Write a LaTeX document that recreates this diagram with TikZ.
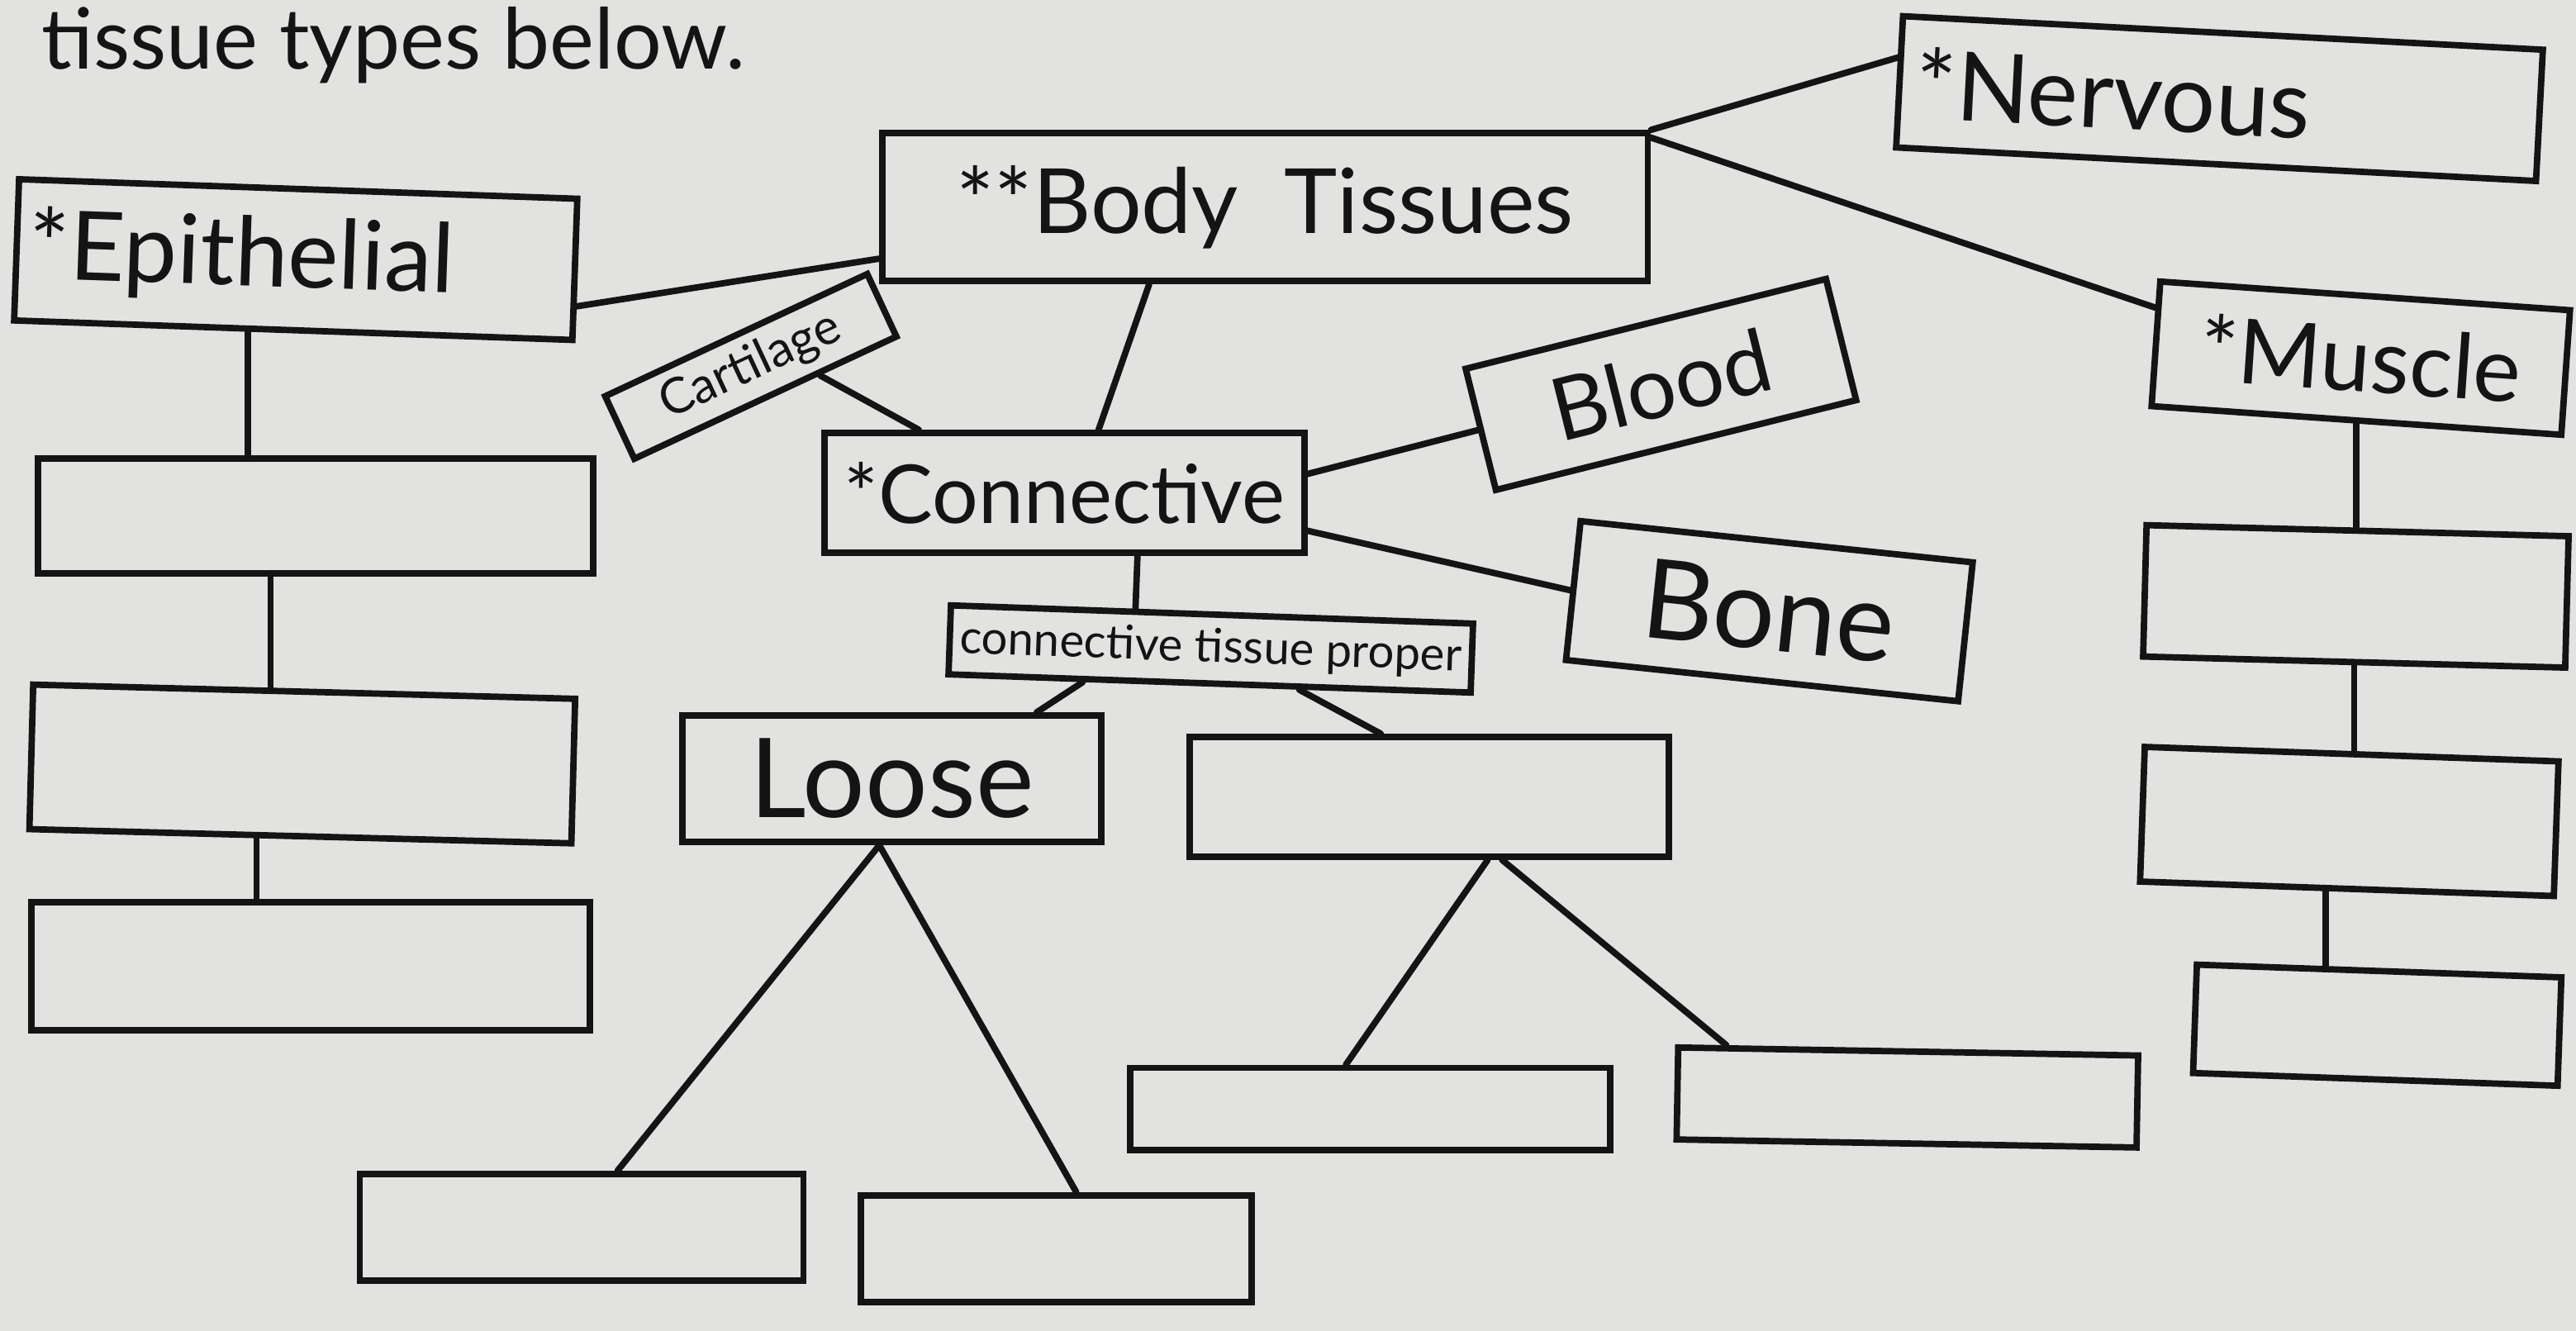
\documentclass[tikz,border=0pt]{standalone}
\usepackage{fontspec}
\setmainfont{Lato}
\usetikzlibrary{calc}
\newcommand\myfs[1]{\fontsize{#1}{#1}\selectfont}
\definecolor{paper}{RGB}{226,226,224}
\definecolor{ink}{RGB}{20,20,20}
\begin{document}
\begin{tikzpicture}[x=0.019885cm,y=-0.019885cm,
  box/.style={draw=ink,line width=2.2pt,inner sep=2pt,text=ink},
  bw/.style={minimum width=#1*0.019885cm},
  bh/.style={minimum height=#1*0.019885cm},
  link/.style={draw=ink,line width=2.2pt,line cap=round},
  words/.style={text=ink,inner sep=0pt}]
\fill[paper] (0,0) rectangle (1568,810);
\useasboundingbox (0,0) rectangle (1568,810);

\node[words,anchor=base west,font=\myfs{29}] (title) at (25,42) {tissue types below.};

% main boxes
\node[box,bw=466,bh=90,font=\myfs{31}] (body) at (770,126) {**Body\ \ Tissues};
\node[box,bw=390,bh=80,rotate=-3,font=\myfs{33},text width=370*0.019885cm,align=left] (nervous) at (1351,60) {*Nervous};
\node[box,bw=340,bh=86,rotate=-2,font=\myfs{33},text width=325*0.019885cm,align=left] (epi) at (180,158) {*Epithelial};
\node[box,bw=250,bh=76,rotate=-4,font=\myfs{31}] (muscle) at (1437,218) {*Muscle};
\node[box,bw=176,bh=42,rotate=25,font=\myfs{17}] (cart) at (457,223) {Cartilage};
\node[box,bw=292,bh=73,font=\myfs{28}] (conn) at (648,300) {*Connective};
\node[box,bw=226,bh=76,rotate=14,font=\myfs{30}] (blood) at (1011,234) {Blood};
\node[box,bw=240,bh=85,rotate=-6,font=\myfs{38}] (bone) at (1077,372) {Bone};
\node[box,bw=318,bh=42,rotate=-2,font=\myfs{16}] (ctp) at (737,395) {connective tissue proper};
\node[box,bw=255,bh=77,font=\myfs{38}] (loose) at (543,474) {Loose};
\node[box,bw=292,bh=73] (cpr) at (870,485) {};
\node[box,bw=270,bh=65] (ll) at (354,747) {};
\node[box,bw=238,bh=65] (lr) at (643,760) {};
\node[box,bw=292,bh=50] (rl) at (834,675) {};
\node[box,bw=280,bh=56,rotate=-1] (rr) at (1161,668) {};
\node[box,bw=338,bh=70] (e1) at (192,314) {};
\node[box,bw=330,bh=88,rotate=-1.5] (e2) at (184,465) {};
\node[box,bw=340,bh=78] (e3) at (189,588) {};
\node[box,bw=257,bh=80,rotate=-1.5] (m1) at (1434,363) {};
\node[box,bw=252,bh=82,rotate=-2] (m2) at (1430,500) {};
\node[box,bw=222,bh=66,rotate=-2] (m3) at (1447,624) {};

% connectors
\draw[link] (body.north east) -- ($(nervous.west)!0.35!(nervous.north west)$);
\draw[link] ($(body.north east)!0.1!(body.east)$) -- ($(muscle.north west)!0.45!(muscle.west)$);
\draw[link] ($(body.south west)!0.33!(body.west)$) -- ($(epi.east)!0.5!(epi.south east)$);
\draw[link] ($(body.south west)!0.35!(body.south east)$) -- ($(conn.north west)!0.57!(conn.north east)$);
\draw[link] ($(cart.south)!0.4!(cart.south east)$) -- ($(conn.north west)!0.2!(conn.north east)$);
\draw[link] ($(conn.east)!0.3!(conn.north east)$) -- (blood.west);
\draw[link] ($(conn.east)!0.6!(conn.south east)$) -- (bone.west);
\draw[link] ($(conn.south)!0.3!(conn.south east)$) -- ($(ctp.north west)!0.355!(ctp.north east)$);
\draw[link] ($(ctp.south west)!0.26!(ctp.south east)$) -- ($(loose.north west)!0.84!(loose.north east)$);
\draw[link] ($(ctp.south west)!0.67!(ctp.south east)$) -- ($(cpr.north west)!0.4!(cpr.north east)$);
\coordinate (lt) at ($(loose.south west)!0.47!(loose.south east)$);
\draw[link] (lt) -- ($(ll.north west)!0.58!(ll.north east)$);
\draw[link] (lt) -- ($(lr.north west)!0.55!(lr.north east)$);
\draw[link] ($(cpr.south west)!0.62!(cpr.south east)$) -- ($(rl.north west)!0.45!(rl.north east)$);
\draw[link] ($(cpr.south west)!0.65!(cpr.south east)$) -- ($(rr.north west)!0.11!(rr.north east)$);
\coordinate (ea) at ($(epi.south west)!0.42!(epi.south east)$);
\draw[link] (ea) -- (ea |- e1.north);
\coordinate (eb) at ($(e1.south west)!0.42!(e1.south east)$);
\draw[link] (eb) -- (eb |- e2.north);
\coordinate (ec) at ($(e2.south west)!0.42!(e2.south east)$);
\draw[link] (ec) -- (ec |- e3.north);
\coordinate (ma) at (muscle.south);
\draw[link] (ma) -- (ma |- m1.north);
\coordinate (mb) at (m1.south);
\draw[link] (mb) -- (mb |- m2.north);
\coordinate (mc) at ($(m2.south)!0.1!(m2.south west)$);
\draw[link] (mc) -- (mc |- m3.north);
\end{tikzpicture}
\end{document}
